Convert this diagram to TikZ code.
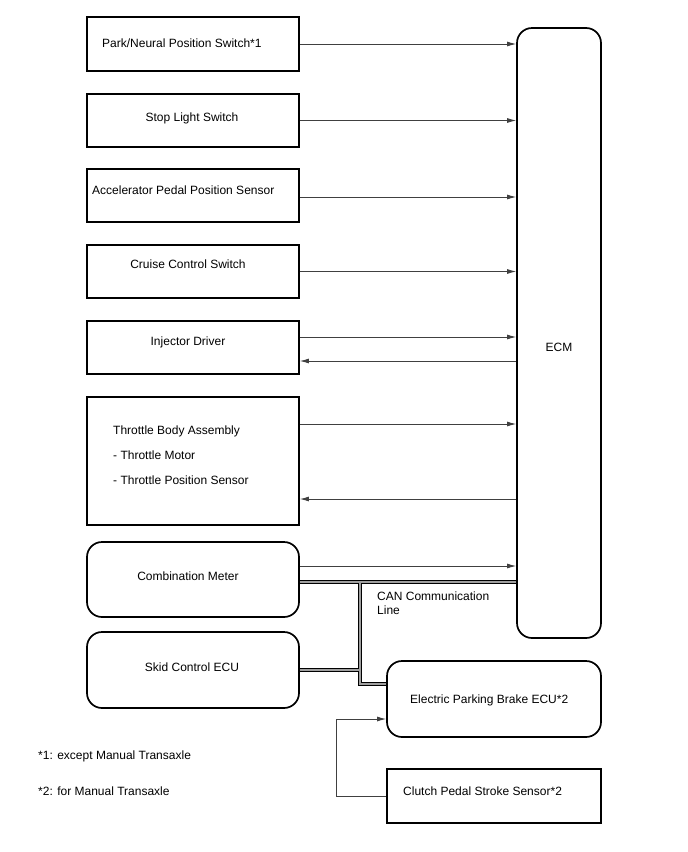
\documentclass[tikz,border=0pt]{standalone}
\usepackage{fontspec}
\setmainfont{Liberation Sans}
\usetikzlibrary{arrows.meta,calc}

\begin{document}
\begin{tikzpicture}[x=1pt, y=-1pt, >={Latex[length=9pt,width=5pt]},
    every node/.style={font=\fontsize{12}{14}\selectfont, inner sep=0pt},
    box/.style={draw, line width=1.7pt, minimum width=212pt},
    rbox/.style={box, rounded corners=15pt},
    sig/.style={->, line width=0.9pt, black!75},
    can/.style={line width=0.9pt, double=gray!75, double distance=1.8pt}]
    \useasboundingbox (0,0) rectangle (688,852);

    % ECM
    \node[rbox, minimum width=84pt, minimum height=610pt] (ecm) at (559,333) {};
    \node (ecmtxt) at (559,347) {ECM};

    % Inputs / outputs on the left
    \node[box, minimum height=54pt] (park) at (193,44) {};
    \node[anchor=west] (parktxt) at (102,43) {Park/Neural Position Switch*1};
    \node[box, minimum height=53pt] (stop) at (193,120.5) {};
    \node (stoptxt) at (192,118) {Stop Light Switch};
    \node[box, minimum height=53pt] (accel) at (193,195.5) {};
    \node[anchor=west] (acceltxt) at (92,190) {Accelerator Pedal Position Sensor};
    \node[box, minimum height=53pt] (cruise) at (193,271.5) {};
    \node (cruisetxt) at (188,264) {Cruise Control Switch};
    \node[box, minimum height=53pt] (inj) at (193,347.5) {};
    \node (injtxt) at (188,342) {Injector Driver};
    \node[box, minimum height=128pt] (thr) at (193,461) {};
    \node[anchor=west, align=left, font=\fontsize{12}{25}\selectfont] (thrtxt) at (113,455)
        {Throttle Body Assembly\\- Throttle Motor\\- Throttle Position Sensor};
    \node[rbox, minimum height=75pt] (comb) at (193,579.5) {};
    \node (combtxt) at (188,576) {Combination Meter};
    \node[rbox, minimum height=76pt] (skid) at (193,670) {};
    \node (skidtxt) at (192,667) {Skid Control ECU};

    % Lower right
    \node[rbox, minimum width=214pt, minimum height=76pt] (epb) at (494,699) {};
    \node[anchor=west] (epbtxt) at (410,700) {Electric Parking Brake ECU*2};
    \node[box, minimum width=214pt, minimum height=54pt] (clutch) at (494,796) {};
    \node[anchor=west] (clutchtxt) at (403,791) {Clutch Pedal Stroke Sensor*2};

    % Signal lines
    \draw[sig] (park.east) -- (park.east -| ecm.west);
    \draw[sig] (stop.east) -- (stop.east -| ecm.west);
    \draw[sig] ([yshift=-1.5]accel.east) -- ([yshift=-1.5]accel.east -| ecm.west);
    \draw[sig] (cruise.east) -- (cruise.east -| ecm.west);
    \draw[sig] ([yshift=10.5]inj.east) -- ([yshift=10.5]inj.east -| ecm.west);
    \draw[sig] ([yshift=-13.5]inj.east -| ecm.west) -- ([yshift=-13.5]inj.east);
    \draw[sig] ([yshift=37]thr.east) -- ([yshift=37]thr.east -| ecm.west);
    \draw[sig] ([yshift=-38]thr.east -| ecm.west) -- ([yshift=-38]thr.east);
    \draw[sig] ([yshift=13.5]comb.east) -- ([yshift=13.5]comb.east -| ecm.west);
    \draw[sig] (clutch.west) -- ++(-50,0) |- ([yshift=-20]epb.west);

    % CAN
    \coordinate (canx) at (360,582);
    \draw[can] ([yshift=-2.5]comb.east) -- ([yshift=-2.5]comb.east -| ecm.west)
        (canx) |- ([yshift=15]epb.west)
        (skid.east) -- (skid.east -| canx);
    \node[anchor=north west, align=left] (cantxt) at (377,592) {CAN Communication\\Line};

    % Notes
    \node[anchor=west] (note1) at (38,756) {*1: except Manual Transaxle};
    \node[anchor=west] (note2) at (38,791) {*2: for Manual Transaxle};
\end{tikzpicture}
\end{document}
